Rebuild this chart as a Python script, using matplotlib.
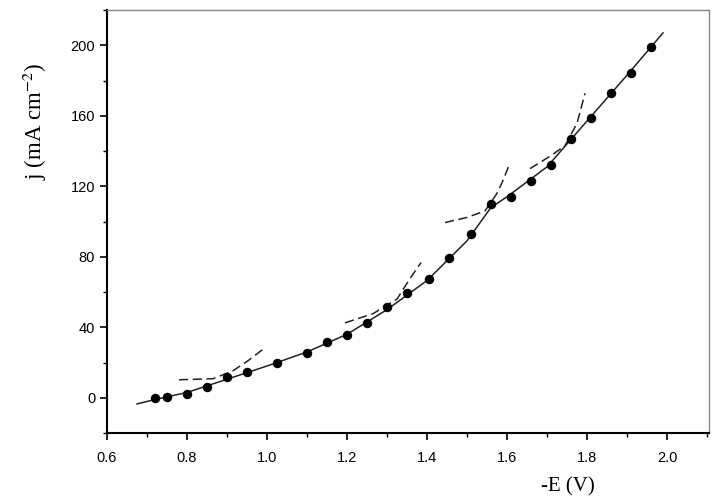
import matplotlib
matplotlib.use("Agg")
import matplotlib.pyplot as plt
from matplotlib.ticker import MultipleLocator

# measured points (-E in V, j in mA cm^-2)
e_pts = [0.72, 0.75, 0.80, 0.85, 0.90, 0.95, 1.025, 1.10, 1.15, 1.20, 1.25, 1.30,
         1.35, 1.405, 1.455, 1.51, 1.56, 1.61, 1.66, 1.71, 1.76, 1.81, 1.86, 1.91, 1.96]
j_pts = [0.0, 0.6, 2.3, 6.3, 11.5, 14.8, 19.9, 25.6, 31.8, 35.8, 42.6, 51.7,
         59.7, 67.6, 79.5, 93, 110, 114, 123, 132, 147, 159, 173, 184.5, 199]

# solid fitted curve
fit_e = [0.675, 0.72, 0.80, 0.90, 1.00, 1.10, 1.20, 1.30, 1.40, 1.50, 1.56,
         1.60, 1.70, 1.80, 1.90, 1.99]
fit_j = [-3.5, -1.0, 3.0, 10.5, 18.0, 26.0, 36.0, 50.0, 66.5, 89.0, 108.0,
         114.0, 131.0, 157.0, 183.0, 207.0]

# dashed tangent segments
dash1_e = [0.78, 0.865, 0.915, 0.9525, 0.995]
dash1_j = [10.2, 10.8, 15.3, 21.0, 28.4]
dash2_e = [1.195, 1.265, 1.325, 1.3575, 1.385]
dash2_j = [42.5, 47.7, 56.0, 67.6, 76.7]
dash3_e = [1.445, 1.50, 1.545, 1.575, 1.5875, 1.605]
dash3_j = [99.4, 102.3, 106.0, 116.0, 122.0, 131.8]
dash4_e = [1.6575, 1.7075, 1.745, 1.775, 1.7825, 1.795]
dash4_j = [130.0, 137.0, 143.0, 155.7, 162.0, 172.7]

plt.rcParams["font.family"] = ["Liberation Sans", "DejaVu Sans"]
plt.rcParams["mathtext.fontset"] = "stix"

fig = plt.figure(figsize=(7.21, 5.0), dpi=100)
ax = fig.add_axes([107 / 721, 1 - 433 / 500, (709 - 107) / 721, (433 - 10) / 500])

ax.plot(fit_e, fit_j, color="#222222", lw=1.1)
for de, dj in [(dash1_e, dash1_j), (dash2_e, dash2_j), (dash3_e, dash3_j), (dash4_e, dash4_j)]:
    ax.plot(de, dj, color="#222222", lw=1.1, dashes=(6, 3))
ax.plot(e_pts, j_pts, "o", color="black", ms=5.8)

ax.set_xlim(0.6, 2.105)
ax.set_ylim(-20, 220)
ax.xaxis.set_minor_locator(MultipleLocator(0.1))
ax.yaxis.set_minor_locator(MultipleLocator(20))
ax.set_yticks([0, 40, 80, 120, 160, 200])
ax.set_xticks([0.6, 0.8, 1.0, 1.2, 1.4, 1.6, 1.8, 2.0])
ax.set_xticklabels(["0.6", "0.8", "1.0", "1.2", "1.4", "1.6", "1.8", "2.0"])
ax.tick_params(which="major", direction="out", length=5, width=1.2, labelsize=10.5)
ax.tick_params(which="minor", direction="out", length=3, width=1.0)
ax.tick_params(axis="x", pad=8)

for side in ["left", "bottom"]:
    ax.spines[side].set_linewidth(1.5)
for side in ["top", "right"]:
    ax.spines[side].set_linewidth(1.0)
    ax.spines[side].set_color("#888888")

fig.text(35 / 721, 1 - 121 / 500, "j (mA cm$^{-2}$)", rotation=90, ha="center", va="center",
         fontsize=16.5, family=["Liberation Serif", "DejaVu Serif"])
fig.text(568 / 721, 1 - 487 / 500, "-E (V)", ha="center", va="center",
         fontsize=15, family=["Liberation Serif", "DejaVu Serif"])

fig.savefig("out.png", dpi=100)
